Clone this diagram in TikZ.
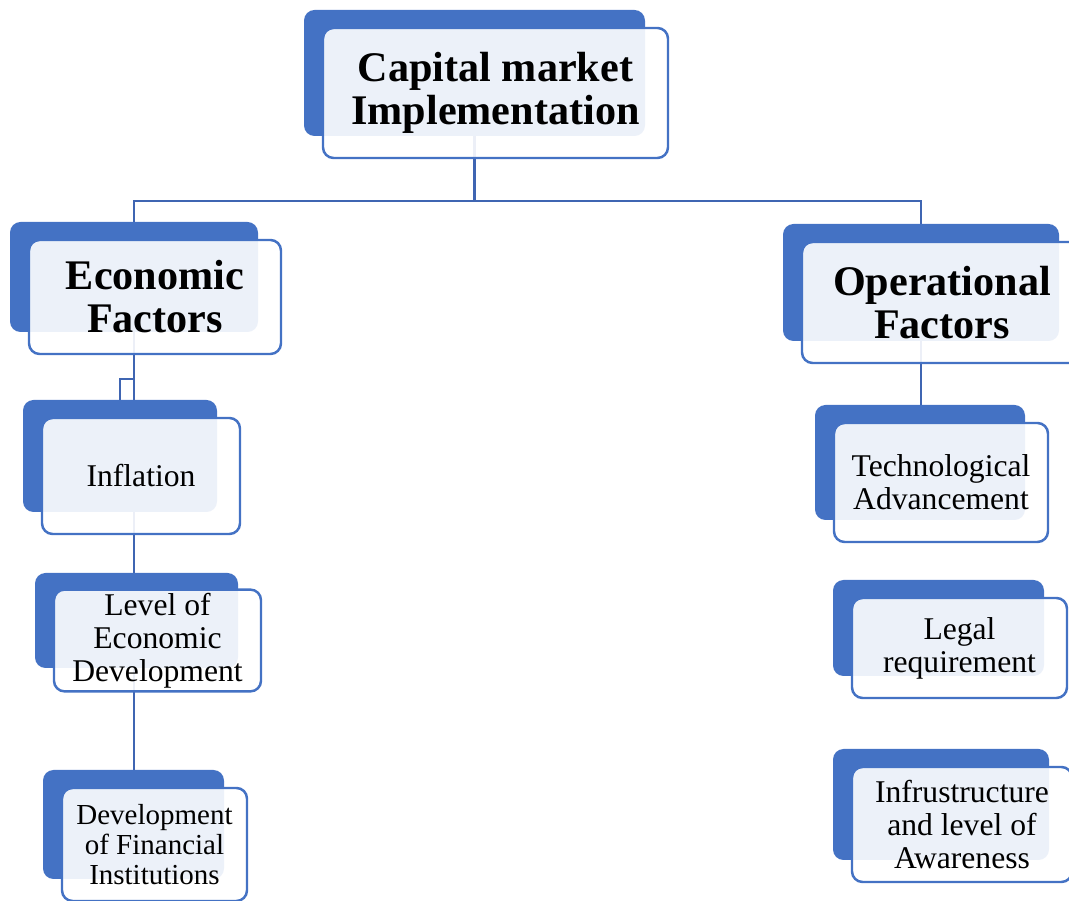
\documentclass[tikz,border=0pt]{standalone}
\usepackage{fontspec}
\setmainfont{Liberation Serif}
\usetikzlibrary{backgrounds}
\definecolor{tileBlue}{RGB}{68,114,196}
\definecolor{linkBlue}{RGB}{63,101,178}

\begin{document}
\begin{tikzpicture}[
  backbox/.style={rounded corners=6pt, fill=tileBlue, draw=none, inner sep=0pt},
  frontbox/.style={rounded corners=6pt, draw=tileBlue, line width=1.4pt, fill=white, fill opacity=0.9, text opacity=1, align=center, inner sep=2pt},
  link/.style={draw=linkBlue, line width=1.5pt},
  head/.style={font=\fontsize{24}{24.5}\selectfont\bfseries},
  item/.style={font=\fontsize{18}{18.7}\selectfont},
]
\useasboundingbox (0,0) rectangle (21.38,18.02);

% one tile: #1 id, #2 centre of front box, #3 width, #4 height, #5 text style, #6 text
\newcommand{\tile}[6]{%
  \node[backbox, minimum width=#3cm-0.08cm, minimum height=#4cm-0.08cm, xshift=-0.42cm, yshift=0.40cm] (#1B) at (#2) {};
  \node[frontbox, #5, minimum width=#3cm, minimum height=#4cm] (#1) at (#2) {#6};
}

% ======================= top =======================
\tile{cap}{9.91,16.16}{6.90}{2.60}{head}{Capital market\\Implementation}

% ======================= left column =======================
\tile{econ}{3.10,12.08}{5.04}{2.28}{head}{Economic\\Factors}
\tile{infl}{2.82,8.50}{3.96}{2.32}{item}{Inflation}
\tile{lvl}{3.15,5.21}{4.14}{1.98}{item}{Level of\\Economic\\Development}
\tile{dev}{3.09,1.13}{3.70}{2.26}{font=\fontsize{16.5}{17}\selectfont}{Development\\of Financial\\Institutions}

% ======================= right column =======================
\tile{oper}{18.84,11.97}{5.60}{2.42}{head}{Operational\\Factors}
\tile{tech}{18.82,8.37}{4.28}{2.38}{item}{Technological\\Advancement}
\tile{legal}{19.19,5.06}{4.30}{2.00}{item}{Legal\\requirement}
\tile{infra}{19.24,1.53}{4.40}{2.30}{item}{Infrustructure\\and level of\\Awareness}

% connectors sit behind the tiles
\begin{pgfonlayer}{background}
  \coordinate (split) at (9.49,14.00);
  \coordinate (jog) at (2.68,10.44);
  \draw[link] (capB.south) -- (split);
  \draw[link] (split) -| (econB.north);
  \draw[link] (split) -| (operB.north);
  \draw[link] (econB.south) -- (econB.south |- inflB.north);
  \draw[link] (jog) -| (inflB.north);
  \draw[link] (econB.south |- inflB.south) -- (econB.south |- lvlB.north);
  \draw[link] (econB.south |- lvlB.south) -- (econB.south |- devB.north);
  \draw[link] (operB.south) -- (operB.south |- techB.north);
\end{pgfonlayer}

\end{tikzpicture}
\end{document}
